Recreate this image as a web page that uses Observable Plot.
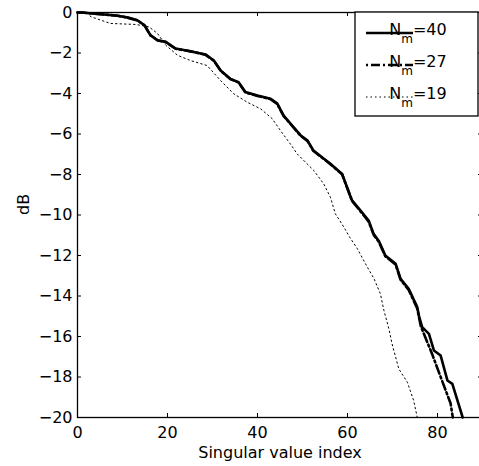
<!DOCTYPE html>
<html>
<head>
<meta charset="utf-8">
<script src="https://cdn.jsdelivr.net/npm/d3@7"></script>
<script src="https://cdn.jsdelivr.net/npm/@observablehq/plot@0.6"></script>
<style>
  html, body { margin: 0; padding: 0; background: white; overflow: hidden; }
  svg { display: block; }
</style>
</head>
<body>
<div id="chart"></div>
<script>
const xTicks = [0, 20, 40, 60, 80];
const yTicks = [0, -2, -4, -6, -8, -10, -12, -14, -16, -18, -20];
const seriesNames = ["40", "27", "19"];

const x40 = [0, 1, 3.3, 6, 8.9, 11, 13.3, 14.9, 16.2, 17.8, 19.6, 21.8, 25.1, 28.4, 30.3, 31.8, 34, 35.8, 37.3, 40, 42.9, 44.4, 45.8, 48, 49.6, 51.1, 52.4, 56.2, 58.8, 59.9, 61, 62.9, 64.7, 65.8, 67, 68.4, 70.7, 71.8, 73.6, 75.5, 75.9, 76.6, 78.1, 79.2, 80.7, 82.2, 83.3, 85.6];
const y40 = [0, 0, -0.05, -0.1, -0.16, -0.24, -0.38, -0.63, -1.12, -1.37, -1.45, -1.78, -1.91, -2.07, -2.37, -2.86, -3.28, -3.44, -3.93, -4.1, -4.26, -4.5, -5.09, -5.66, -6.07, -6.32, -6.81, -7.47, -7.97, -8.63, -9.28, -9.78, -10.27, -10.93, -11.3, -12.0, -12.41, -13.15, -13.64, -14.55, -15.0, -15.54, -15.87, -16.69, -16.94, -18.17, -18.34, -20];

const x27 = [0, 1, 3.3, 6, 8.9, 11, 13.3, 14.9, 16.2, 17.8, 19.6, 21.8, 25.1, 28.4, 30.3, 31.8, 34, 35.8, 37.3, 40, 42.9, 44.4, 45.8, 48, 49.6, 51.1, 52.4, 56.2, 58.8, 59.9, 61, 62.9, 64.7, 65.8, 67, 68.4, 70.7, 71.8, 73.6, 75.5, 76.3, 78.8, 80.7, 82.9, 83.4];
const y27 = [0, 0, -0.05, -0.1, -0.16, -0.25, -0.39, -0.64, -1.13, -1.38, -1.46, -1.79, -1.92, -2.08, -2.38, -2.87, -3.29, -3.46, -3.95, -4.12, -4.28, -4.52, -5.11, -5.68, -6.09, -6.34, -6.83, -7.49, -7.99, -8.65, -9.3, -9.82, -10.33, -10.97, -11.34, -12.04, -12.45, -13.2, -13.7, -14.62, -15.5, -16.86, -18.0, -19.3, -20];

const x19 = [1, 2.2, 3, 7.3, 12.9, 15.9, 17.8, 19.6, 22.2, 25.1, 28.8, 31.8, 34.7, 37.7, 40.7, 43.3, 45.1, 47.3, 48.8, 52.5, 54.7, 56.2, 57.3, 59.2, 60.5, 62.2, 64, 65.9, 67.3, 68.1, 69.2, 69.9, 71.4, 73.3, 74.7, 75.5];
const y19 = [0, -0.05, -0.21, -0.54, -0.59, -0.71, -1.04, -1.61, -2.11, -2.37, -2.62, -3.36, -4.01, -4.43, -4.76, -5.25, -5.83, -6.49, -6.98, -7.8, -8.46, -9.12, -9.94, -10.6, -11.1, -11.67, -12.41, -13.15, -13.89, -14.72, -15.62, -16.36, -17.6, -18.26, -19.16, -20];

const toRows = (xs, ys) => xs.map((x, i) => ({x, y: ys[i]}));
const d40 = toRows(x40, y40);
const d27 = toRows(x27, y27);
const d19 = toRows(x19, y19);

const W = 479, H = 466;
const mL = 77, mT = 12, mB = 49, mR = -3;
const fw = W - mL - mR, fh = H - mT - mB;
const tk = 4;
const font = "'DejaVu Sans', 'Liberation Sans', Arial, sans-serif";

const chart = Plot.plot({
  width: W,
  height: H,
  marginLeft: mL,
  marginTop: mT,
  marginBottom: mB,
  marginRight: mR,
  style: {fontFamily: font, fontSize: "16px", background: "white", color: "black", overflow: "hidden"},
  x: {domain: [0, 90]},
  y: {domain: [-20, 0]},
  marks: [
    Plot.axisX({ticks: xTicks, tickSize: 0, tickPadding: 9, label: null, fontSize: 16}),
    Plot.axisY({ticks: yTicks, tickSize: 0, tickPadding: 5, label: null, fontSize: 16}),
    Plot.gridX({ticks: xTicks, insetTop: fh - tk, stroke: "black", strokeOpacity: 1, strokeWidth: 1}),
    Plot.gridX({ticks: xTicks, insetBottom: fh - tk, stroke: "black", strokeOpacity: 1, strokeWidth: 1}),
    Plot.gridY({ticks: yTicks, insetRight: fw - tk, stroke: "black", strokeOpacity: 1, strokeWidth: 1}),
    Plot.gridY({ticks: yTicks, insetLeft: fw - tk, stroke: "black", strokeOpacity: 1, strokeWidth: 1}),
    Plot.line(d40, {x: "x", y: "y", stroke: "black", strokeWidth: 2.6}),
    Plot.line(d27, {x: "x", y: "y", stroke: "black", strokeWidth: 2.6, strokeDasharray: "9,3,2,3"}),
    Plot.line(d19, {x: "x", y: "y", stroke: "black", strokeWidth: 1, strokeDasharray: "1.5,3"}),
    Plot.frame({stroke: "black", strokeWidth: 1.3}),
    Plot.text(["Singular value index"], {frameAnchor: "bottom", dy: 40, fontSize: 16, fill: "black"}),
    Plot.text(["dB"], {frameAnchor: "left", dx: -54, rotate: -90, fontSize: 16, fill: "black"})
  ]
});

document.getElementById("chart").appendChild(chart);

// Legend box inside the plot area
const svg = d3.select(chart);
const lg = svg.append("g").attr("class", "legend");
const lx0 = 355, ly0 = 12, lx1 = 478, ly1 = 116;
lg.append("rect")
  .attr("x", lx0).attr("y", ly0)
  .attr("width", lx1 - lx0).attr("height", ly1 - ly0)
  .attr("fill", "white").attr("stroke", "black").attr("stroke-width", 1.3);
const styles = [
  {w: 2.6, dash: null},
  {w: 2.6, dash: "2,3,9,3"},
  {w: 1, dash: "1.5,3"}
];
const rowY = [33, 65, 97];
seriesNames.forEach((name, i) => {
  const ln = lg.append("line")
    .attr("x1", 366).attr("x2", 413)
    .attr("y1", rowY[i]).attr("y2", rowY[i])
    .attr("stroke", "black").attr("stroke-width", styles[i].w);
  if (styles[i].dash) ln.attr("stroke-dasharray", styles[i].dash);
  const t = lg.append("text")
    .attr("x", 418).attr("y", rowY[i] + 2)
    .attr("font-family", font).attr("font-size", 16).attr("fill", "black");
  t.append("tspan").text("N");
  t.append("tspan").attr("font-size", 12).attr("dy", 8).text("m");
  t.append("tspan").attr("dy", -8).text("=" + name);
});
</script>
</body>
</html>
